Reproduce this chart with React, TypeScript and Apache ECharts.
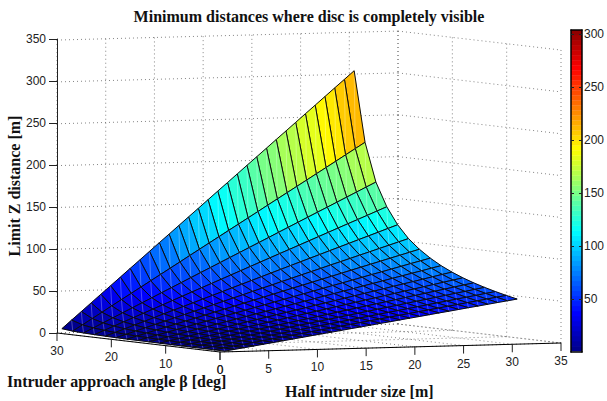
import React, { useEffect, useRef } from "react";
import * as echarts from "echarts";

const titleText = "Minimum distances where disc is completely visible";
const zLabel = "Limit Z distance [m]";
const betaLabel = "Intruder approach angle β [deg]";
const sizeLabel = "Half intruder size [m]";

const sizeTicks = [0, 5, 10, 15, 20, 25, 30, 35];
const betaTicks = [0, 10, 20, 30];
const zTicks = [0, 50, 100, 150, 200, 250, 300, 350];
const colorbarTicks = [50, 100, 150, 200, 250, 300];

const sizes = [0.5, 1.5, 2.5, 3.5, 4.5, 5.5, 6.5, 7.5, 8.5, 9.5, 10.5, 11.5, 12.5, 13.5, 14.5, 15.5, 16.5, 17.5, 18.5, 19.5, 20.5, 21.5, 22.5, 23.5, 24.5, 25.5, 26.5, 27.5, 28.5, 29.5, 30.5];
const betas = [0, 2, 4, 6, 8, 10, 12, 14, 16, 18, 20, 22, 24, 26, 28, 30];

const zBeta0 = [0.9, 2.7, 4.4, 6.2, 8.0, 9.7, 11.5, 13.3, 15.0, 16.8, 18.6, 20.3, 22.1, 23.9, 25.6, 27.4, 29.2, 30.9, 32.7, 34.5, 36.2, 38.0, 39.8, 41.5, 43.3, 45.1, 46.8, 48.6, 50.4, 52.1, 53.9];
const zBeta2 = [0.9, 2.8, 4.6, 6.5, 8.4, 10.2, 12.1, 13.9, 15.8, 17.7, 19.5, 21.4, 23.2, 25.1, 27.0, 28.8, 30.7, 32.5, 34.4, 36.3, 38.1, 40.0, 41.8, 43.7, 45.6, 47.4, 49.3, 51.1, 53.0, 54.9, 56.7];
const zBeta4 = [1.0, 2.9, 4.9, 6.9, 8.8, 10.8, 12.7, 14.7, 16.7, 18.6, 20.6, 22.6, 24.5, 26.5, 28.4, 30.4, 32.4, 34.3, 36.3, 38.3, 40.2, 42.2, 44.1, 46.1, 48.1, 50.0, 52.0, 53.9, 55.9, 57.9, 59.8];
const zBeta6 = [1.0, 3.1, 5.2, 7.3, 9.3, 11.4, 13.5, 15.6, 17.6, 19.7, 21.8, 23.9, 25.9, 28.0, 30.1, 32.2, 34.2, 36.3, 38.4, 40.5, 42.5, 44.6, 46.7, 48.8, 50.8, 52.9, 55.0, 57.1, 59.1, 61.2, 63.3];
const zBeta8 = [1.1, 3.3, 5.5, 7.7, 9.9, 12.1, 14.3, 16.5, 18.7, 20.9, 23.1, 25.3, 27.5, 29.7, 31.9, 34.1, 36.4, 38.6, 40.8, 43.0, 45.2, 47.4, 49.6, 51.8, 54.0, 56.2, 58.4, 60.6, 62.8, 65.0, 67.2];
const zBeta10 = [1.2, 3.5, 5.9, 8.2, 10.6, 12.9, 15.3, 17.6, 20.0, 22.3, 24.7, 27.0, 29.4, 31.7, 34.1, 36.4, 38.8, 41.1, 43.5, 45.8, 48.2, 50.5, 52.9, 55.2, 57.6, 59.9, 62.3, 64.6, 67.0, 69.3, 71.7];
const zBeta12 = [1.3, 3.8, 6.3, 8.8, 11.4, 13.9, 16.4, 18.9, 21.5, 24.0, 26.5, 29.0, 31.6, 34.1, 36.6, 39.1, 41.7, 44.2, 46.7, 49.2, 51.8, 54.3, 56.8, 59.3, 61.9, 64.4, 66.9, 69.4, 72.0, 74.5, 77.0];
const zBeta14 = [1.4, 4.1, 6.8, 9.5, 12.3, 15.0, 17.7, 20.5, 23.2, 25.9, 28.6, 31.4, 34.1, 36.8, 39.6, 42.3, 45.0, 47.7, 50.5, 53.2, 55.9, 58.6, 61.4, 64.1, 66.8, 69.6, 72.3, 75.0, 77.7, 80.5, 83.2];
const zBeta16 = [1.5, 4.5, 7.4, 10.4, 13.4, 16.4, 19.3, 22.3, 25.3, 28.3, 31.2, 34.2, 37.2, 40.1, 43.1, 46.1, 49.1, 52.0, 55.0, 58.0, 61.0, 63.9, 66.9, 69.9, 72.9, 75.8, 78.8, 81.8, 84.8, 87.7, 90.7];
const zBeta18 = [1.6, 4.9, 8.2, 11.5, 14.7, 18.0, 21.3, 24.5, 27.8, 31.1, 34.4, 37.6, 40.9, 44.2, 47.4, 50.7, 54.0, 57.3, 60.5, 63.8, 67.1, 70.3, 73.6, 76.9, 80.2, 83.4, 86.7, 90.0, 93.2, 96.5, 99.8];
const zBeta20 = [1.8, 5.5, 9.1, 12.7, 16.4, 20.0, 23.7, 27.3, 30.9, 34.6, 38.2, 41.8, 45.5, 49.1, 52.8, 56.4, 60.0, 63.7, 67.3, 71.0, 74.6, 78.2, 81.9, 85.5, 89.1, 92.8, 96.4, 100.1, 103.7, 107.4, 111.0];
const zBeta22 = [2.1, 6.2, 10.3, 14.5, 18.6, 22.7, 26.9, 31.0, 35.1, 39.2, 43.4, 47.5, 51.6, 55.8, 59.9, 64.0, 68.2, 72.3, 76.4, 80.6, 84.7, 88.8, 92.9, 97.1, 101.2, 105.3, 109.5, 113.6, 117.7, 121.9, 126.0];
const zBeta24 = [2.4, 7.2, 12.0, 16.8, 21.5, 26.3, 31.1, 35.9, 40.7, 45.5, 50.3, 55.1, 59.8, 64.6, 69.4, 74.2, 79.0, 83.8, 88.6, 93.4, 98.1, 102.9, 107.7, 112.5, 117.3, 122.1, 126.9, 131.6, 136.4, 141.2, 146.0];
const zBeta26 = [2.9, 8.6, 14.3, 20.0, 25.7, 31.4, 37.1, 42.8, 48.5, 54.2, 59.9, 65.6, 71.3, 77.0, 82.7, 88.4, 94.1, 99.8, 105.5, 111.2, 117.0, 122.7, 128.4, 134.1, 139.8, 145.5, 151.2, 156.9, 162.6, 168.3, 174.0];
const zBeta28 = [3.6, 10.8, 18.0, 25.2, 32.5, 39.7, 46.9, 54.1, 61.3, 68.5, 75.7, 82.9, 90.2, 97.4, 104.6, 111.8, 119.0, 126.2, 133.4, 140.6, 147.9, 155.1, 162.3, 169.5, 176.7, 183.9, 191.1, 198.3, 205.6, 212.8, 220.0];
const zBeta30 = [5.0, 15.0, 24.9, 34.9, 44.9, 54.8, 64.8, 74.8, 84.7, 94.7, 104.7, 114.6, 124.6, 134.6, 144.5, 154.5, 164.5, 174.4, 184.4, 194.4, 204.3, 214.3, 224.3, 234.2, 244.2, 254.2, 264.1, 274.1, 284.1, 294.0, 304.0];
const zRows = [zBeta0, zBeta2, zBeta4, zBeta6, zBeta8, zBeta10, zBeta12, zBeta14, zBeta16, zBeta18, zBeta20, zBeta22, zBeta24, zBeta26, zBeta28, zBeta30];

const colorLimits = [0.9, 304];
const colorLevels = 64;

// Orthographic view of the 3D box, expressed on the hidden scene axes.
const project = (size: number, beta: number, z: number): number[] => [
  220 + size * 9.743 - beta * 5.433,
  352 - size * 0.257 - beta * 0.633 - z * 0.837,
];

const jet = (i: number): string => {
  const t = (i + 1) / (colorLevels + 1);
  const c = (v: number) => Math.round(255 * Math.max(0, Math.min(1, v)));
  return `rgb(${c(1.5 - Math.abs(4 * t - 3))},${c(1.5 - Math.abs(4 * t - 2))},${c(1.5 - Math.abs(4 * t - 1))})`;
};
const levelOf = (v: number): number => {
  const [lo, hi] = colorLimits;
  return Math.max(0, Math.min(colorLevels - 1, Math.floor(((v - lo) / (hi - lo)) * colorLevels)));
};

const sizeMax = sizeTicks[sizeTicks.length - 1];
const betaMax = betaTicks[betaTicks.length - 1];
const zMax = zTicks[zTicks.length - 1];

const gridSegments: number[][] = [];
sizeTicks.forEach((s) => {
  gridSegments.push([s, betaMax, 0, s, betaMax, zMax]);
  gridSegments.push([s, 0, 0, s, betaMax, 0]);
});
betaTicks.forEach((b) => {
  gridSegments.push([sizeMax, b, 0, sizeMax, b, zMax]);
  gridSegments.push([0, b, 0, sizeMax, b, 0]);
});
zTicks.forEach((z) => {
  gridSegments.push([0, betaMax, z, sizeMax, betaMax, z]);
  gridSegments.push([sizeMax, betaMax, z, sizeMax, 0, z]);
});

// far cells first so that nearer cells paint over them
const cells: number[][] = [];
for (let j = betas.length - 2; j >= 0; j--) {
  for (let k = sizes.length - 2; k >= 0; k--) {
    cells.push([k, j]);
  }
}

const axisTickItems: number[][] = [
  ...sizeTicks.map((s) => [s, 0]),
  ...betaTicks.map((b) => [0, b]),
];

const levels = Array.from({ length: colorLevels }, (_, i) => [i, 0]);

const App = () => {
  const ref = useRef<HTMLDivElement>(null);
  useEffect(() => {
    document.body.style.margin = "0";
    const chart = echarts.init(ref.current!, undefined, { renderer: "svg" });
    const hiddenX = (gridIndex: number, max: number) => ({ type: "value", gridIndex, min: 0, max, show: false });
    const sceneCoord = (api: any, p: number[]) => api.coord(p);
    const option: any = {
      animation: false,
      backgroundColor: "#fff",
      title: {
        text: titleText,
        left: 304,
        top: 3,
        textAlign: "center",
        textStyle: { fontFamily: "Liberation Serif", fontWeight: "bold", fontSize: 16, color: "#111" },
      },
      grid: [
        { left: 0, top: 0, width: 607, height: 401 },
        { left: 57, top: 39, width: 10, height: 294 },
        { left: 571, top: 30, width: 15, height: 322 },
      ],
      xAxis: [
        hiddenX(0, 607),
        hiddenX(1, 1),
        {
          type: "value", gridIndex: 2, min: 0, max: 1, position: "bottom", z: 10,
          axisLine: { show: true, onZero: false, lineStyle: { color: "#000", width: 1.5 } },
          axisTick: { show: false }, axisLabel: { show: false }, splitLine: { show: false },
        },
        {
          type: "value", gridIndex: 2, min: 0, max: 1, position: "top", z: 10,
          axisLine: { show: true, onZero: false, lineStyle: { color: "#000", width: 1.5 } },
          axisTick: { show: false }, axisLabel: { show: false }, splitLine: { show: false },
        },
      ],
      yAxis: [
        { type: "value", gridIndex: 0, min: 0, max: 401, inverse: true, show: false },
        {
          type: "value", gridIndex: 1, min: 0, max: 350, interval: 50, position: "left", z: 10,
          name: zLabel, nameLocation: "middle", nameRotate: 90, nameGap: 33,
          nameTextStyle: { fontFamily: "Liberation Serif", fontWeight: "bold", fontSize: 16, color: "#111", verticalAlign: "bottom" },
          axisLine: { show: true, onZero: false, lineStyle: { color: "#222", width: 1 } },
          axisTick: { show: true, length: 8, lineStyle: { color: "#222", width: 1 } },
          axisLabel: { margin: 11, fontFamily: "Liberation Sans", fontSize: 12, color: "#222" },
          splitLine: { show: false },
        },
        {
          type: "value", gridIndex: 2, min: 0, max: 304, position: "right", z: 10,
          axisLine: { show: true, onZero: false, lineStyle: { color: "#000", width: 1.5 } },
          axisTick: { show: true, inside: true, length: 3, customValues: colorbarTicks, lineStyle: { color: "#222", width: 1 } },
          axisLabel: { margin: 2, customValues: colorbarTicks, fontFamily: "Liberation Sans", fontSize: 12, color: "#222" },
          splitLine: { show: false },
        },
        {
          type: "value", gridIndex: 2, min: 0, max: 304, position: "left", z: 10,
          axisLine: { show: true, onZero: false, lineStyle: { color: "#000", width: 1.5 } },
          axisTick: { show: true, inside: true, length: 3, customValues: colorbarTicks, lineStyle: { color: "#222", width: 1 } },
          axisLabel: { show: false },
          splitLine: { show: false },
        },
      ],
      graphic: [
        {
          type: "text", x: 7, y: 381,
          style: { text: betaLabel, fontFamily: "Liberation Serif", fontWeight: "bold", fontSize: 16, fill: "#111", textVerticalAlign: "middle" },
        },
        {
          type: "text", x: 285, y: 391,
          style: { text: sizeLabel, fontFamily: "Liberation Serif", fontWeight: "bold", fontSize: 16, fill: "#111", textVerticalAlign: "middle" },
        },
      ],
      series: [
        {
          type: "custom", name: "box grid", coordinateSystem: "cartesian2d", xAxisIndex: 0, yAxisIndex: 0, clip: false, silent: true, z: 1,
          data: gridSegments,
          renderItem: (_p: any, api: any) => {
            const a = sceneCoord(api, project(api.value(0), api.value(1), api.value(2)));
            const b = sceneCoord(api, project(api.value(3), api.value(4), api.value(5)));
            return {
              type: "line",
              shape: { x1: a[0], y1: a[1], x2: b[0], y2: b[1] },
              style: { stroke: "#666", lineWidth: 0.8, lineDash: [1, 3], fill: "none" },
            };
          },
        },
        {
          type: "custom", name: "surface", coordinateSystem: "cartesian2d", xAxisIndex: 0, yAxisIndex: 0, clip: false, silent: true, z: 2,
          data: cells,
          renderItem: (_p: any, api: any) => {
            const k = api.value(0);
            const j = api.value(1);
            const v = (kk: number, jj: number) => sceneCoord(api, project(sizes[kk], betas[jj], zRows[jj][kk]));
            const pts = [v(k, j), v(k + 1, j), v(k + 1, j + 1), v(k, j + 1)];
            const fill = jet(levelOf(zRows[j][k]));
            return {
              type: "group",
              children: [
                { type: "polygon", shape: { points: pts }, style: { fill, stroke: fill, lineWidth: 0.3 } },
                {
                  type: "line",
                  shape: { x1: pts[0][0], y1: pts[0][1], x2: pts[2][0], y2: pts[2][1] },
                  style: { stroke: "rgba(255,255,255,0.28)", lineWidth: 1, fill: "none" },
                },
                { type: "polygon", shape: { points: pts }, style: { fill: "none", stroke: "#0c0c0c", lineWidth: 1 } },
              ],
            };
          },
        },
        {
          type: "custom", name: "floor axes", coordinateSystem: "cartesian2d", xAxisIndex: 0, yAxisIndex: 0, clip: false, silent: true, z: 3,
          data: axisTickItems,
          renderItem: (params: any, api: any) => {
            const s = api.value(0);
            const b = api.value(1);
            const base = sceneCoord(api, project(s, b, 0));
            const tip = [base[0], base[1] + 8];
            const children: any[] = [
              { type: "line", shape: { x1: base[0], y1: base[1], x2: tip[0], y2: tip[1] }, style: { stroke: "#222", lineWidth: 1, fill: "none" } },
              {
                type: "text",
                x: base[0],
                y: base[1] + 18,
                style: {
                  text: String(s || b),
                  fontFamily: "Liberation Sans", fontSize: 12, fill: "#222",
                  textAlign: "center", textVerticalAlign: "middle",
                },
              },
            ];
            if (params.dataIndex === 0) {
              const o = sceneCoord(api, project(0, 0, 0));
              const e1 = sceneCoord(api, project(sizeMax, 0, 0));
              const e2 = sceneCoord(api, project(0, betaMax, 0));
              children.push(
                { type: "line", shape: { x1: o[0], y1: o[1], x2: e1[0], y2: e1[1] }, style: { stroke: "#000", lineWidth: 1, fill: "none" } },
                { type: "line", shape: { x1: o[0], y1: o[1], x2: e2[0], y2: e2[1] }, style: { stroke: "#000", lineWidth: 1, fill: "none" } },
              );
            }
            return { type: "group", children };
          },
        },
        {
          type: "custom", name: "colorbar", coordinateSystem: "cartesian2d", xAxisIndex: 2, yAxisIndex: 2, clip: false, silent: true, z: 2,
          data: levels,
          renderItem: (_p: any, api: any) => {
            const i = api.value(0);
            const [lo, hi] = colorLimits;
            const step = (hi - lo) / colorLevels;
            const a = api.coord([0, lo + i * step]);
            const b = api.coord([1, lo + (i + 1) * step]);
            return {
              type: "rect",
              shape: { x: a[0], y: b[1], width: b[0] - a[0], height: a[1] - b[1] + 0.3 },
              style: { fill: jet(i) },
            };
          },
        },
      ],
    };
    chart.setOption(option);
    return () => chart.dispose();
  }, []);
  return <div ref={ref} style={{ width: 607, height: 401 }} />;
};

export default App;
